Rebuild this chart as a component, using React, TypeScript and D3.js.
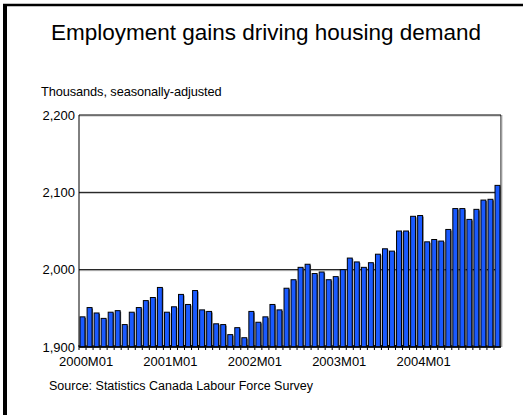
import React from "react";
import * as d3 from "d3";

const years = [2000, 2001, 2002, 2003, 2004];
const months = years.flatMap((y) =>
  d3.range(1, 13).map((m) => `${y}M${String(m).padStart(2, "0")}`)
);
const values = [
  1939, 1951, 1944, 1937, 1945, 1947, 1929, 1945, 1951, 1960, 1964, 1977,
  1945, 1952, 1968, 1955, 1973, 1948, 1946, 1930, 1929, 1916, 1925, 1912,
  1946, 1932, 1939, 1955, 1948, 1976, 1987, 2003, 2007, 1995, 1997, 1987,
  1991, 2000, 2015, 2010, 2003, 2009, 2020, 2027, 2024, 2050, 2050, 2069,
  2070, 2036, 2039, 2037, 2052, 2079, 2079, 2065, 2078, 2090, 2091, 2109,
];
const yTicks = [1900, 2000, 2100, 2200];
const xLabels = ["2000M01", "2001M01", "2002M01", "2003M01", "2004M01"];
const title = "Employment gains driving housing demand";
const subtitle = "Thousands, seasonally-adjusted";
const source = "Source: Statistics Canada Labour Force Survey";

export default function App() {
  const left = 79, right = 501, top = 115, bottom = 347;
  const x = d3.scaleBand<string>().domain(months).range([left, right]).paddingInner(0.3).paddingOuter(0.15);
  const y = d3.scaleLinear().domain([1900, 2200]).range([bottom, top]);
  const fmt = d3.format(",");
  const step = x.step();
  const font = "'Liberation Sans', Arial, sans-serif";
  return (
    <svg width={525} height={415} style={{ position: "absolute", left: 0, top: 0, background: "#fff" }} fontFamily={font}>
      <rect x={0} y={0} width={525} height={415} fill="#fff" />
      {/* frame */}
      <line x1={5} x2={5} y1={4} y2={415} stroke="#000" strokeWidth={4} />
      <line x1={3} x2={523} y1={5} y2={5} stroke="#000" strokeWidth={2.5} />
      <text x={266} y={40} textAnchor="middle" fontSize={22.5} fill="#000">{title}</text>
      <text x={41} y={96} fontSize={12.8} fill="#000" letterSpacing={-0.1}>{subtitle}</text>
      {/* grid */}
      {yTicks.filter((t) => t > 1900 && t < 2200).map((t) => (
        <g key={t}>
          <line x1={left} x2={right} y1={y(t) + 1} y2={y(t) + 1} stroke="#bbb" strokeWidth={1} />
          <line x1={left} x2={right} y1={y(t)} y2={y(t)} stroke="#000" strokeWidth={1} />
        </g>
      ))}
      {/* plot border */}
      <line x1={left} x2={right} y1={top + 1} y2={top + 1} stroke="#bbb" />
      <line x1={left} x2={right} y1={top} y2={top} stroke="#000" />
      <line x1={right} x2={right} y1={top} y2={bottom} stroke="#000" />
      <line x1={right + 1} x2={right + 1} y1={top} y2={bottom} stroke="#bbb" />
      <line x1={left} x2={left} y1={top} y2={bottom} stroke="#000" />
      {/* bars */}
      {months.map((m, i) => (
        <rect key={"s" + m} x={(x(m) as number) + 1} y={y(values[i]) + 1} width={x.bandwidth()} height={bottom - y(values[i]) - 1} fill="#555" />
      ))}
      {months.map((m, i) => (
        <rect key={m} x={x(m)} y={y(values[i])} width={x.bandwidth()} height={bottom - y(values[i])} fill="#1a5aff" stroke="#000" strokeWidth={1} />
      ))}
      {/* x axis */}
      <line x1={left} x2={right} y1={bottom} y2={bottom} stroke="#000" strokeWidth={1.5} />
      {months.map((m) => {
        const tx = (x(m) as number) - (step - x.bandwidth()) / 2;
        return <line key={"t" + m} x1={tx} x2={tx} y1={bottom - 2} y2={bottom + 3} stroke="#000" strokeWidth={1} />;
      })}
      {yTicks.map((t) => (
        <text key={t} x={75} y={y(t) + 4.5} textAnchor="end" fontSize={13} fill="#000">{fmt(t)}</text>
      ))}
      {xLabels.map((l) => (
        <text key={l} x={(x(l) as number) + 6} y={366} textAnchor="middle" fontSize={13} fill="#000">{l}</text>
      ))}
      <text x={49} y={390} fontSize={12.5} fill="#000">{source}</text>
    </svg>
  );
}
